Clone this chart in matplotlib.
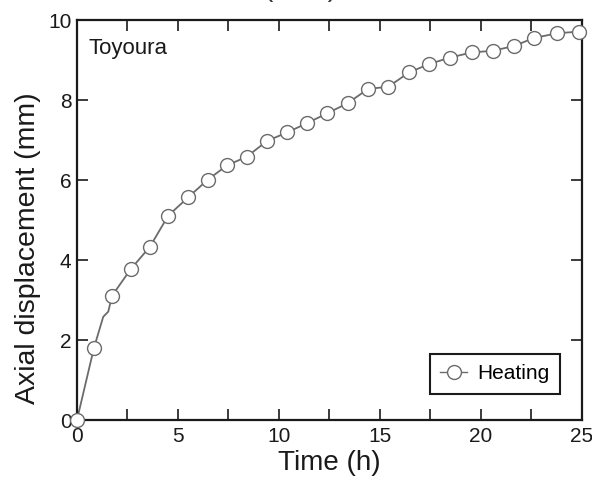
import matplotlib
matplotlib.use('Agg')
from matplotlib import pyplot as plt
from matplotlib.ticker import MultipleLocator

plt.rcParams['font.family'] = ['Liberation Sans', 'DejaVu Sans']

# marker points (h, mm)
time_h = [0.0, 0.84, 1.74, 2.66, 3.61, 4.52, 5.51, 6.48, 7.44, 8.40, 9.42,
          10.41, 11.38, 12.40, 13.40, 14.42, 15.41, 16.44, 17.44, 18.46,
          19.54, 20.58, 21.63, 22.62, 23.78, 24.85]
disp_mm = [0.0, 1.80, 3.11, 3.77, 4.33, 5.11, 5.57, 6.01, 6.37, 6.58, 6.98,
           7.19, 7.42, 7.67, 7.92, 8.28, 8.33, 8.69, 8.90, 9.06,
           9.19, 9.23, 9.35, 9.55, 9.67, 9.71]

# a couple of extra points on the measured curve near the early bend
bend_t = [1.30, 1.55]
bend_y = [2.58, 2.71]

curve = sorted(zip(time_h + bend_t, disp_mm + bend_y))
curve_t = [c[0] for c in curve]
curve_y = [c[1] for c in curve]

gray = '#6b6b6b'
ink = '#1a1a1a'

fig = plt.figure(figsize=(5.92, 4.78), dpi=100)
ax = fig.add_axes([0.130, 0.1213, 0.853, 0.8368])

ax.plot(curve_t, curve_y, color=gray, lw=1.3, zorder=2)
ax.plot(time_h, disp_mm, linestyle='none', marker='o', ms=10,
        mfc='white', mec=gray, mew=1.0, clip_on=False, zorder=3)

# legend proxy
ax.plot([], [], color=gray, lw=1.0, marker='o', ms=10, mfc='white',
        mec=gray, mew=1.0, label='Heating')

ax.set_xlim(0, 25)
ax.set_ylim(0, 10)
ax.xaxis.set_major_locator(MultipleLocator(5))
ax.xaxis.set_minor_locator(MultipleLocator(2.5))
ax.yaxis.set_major_locator(MultipleLocator(2))

for s in ax.spines.values():
    s.set_linewidth(1.6)
    s.set_color(ink)
ax.tick_params(which='both', direction='in', top=True, right=True,
               length=8, width=1.2, color=ink)
ax.tick_params(labelsize=15, labelcolor=ink)
ax.tick_params(axis='x', pad=5)
ax.tick_params(axis='y', pad=4)

ax.set_xlabel('Time (h)', fontsize=20, color=ink, labelpad=3)
ax.set_ylabel('Axial displacement (mm)', fontsize=20.5, color=ink)
ax.yaxis.set_label_coords(-0.071, 0.43)

ax.text(0.022, 0.955, 'Toyoura', transform=ax.transAxes, fontsize=16,
        va='top', ha='left', color=ink)

leg = ax.legend(loc='lower right', bbox_to_anchor=(0.978, 0.04),
                fontsize=15, handlelength=1.3, handletextpad=0.5,
                borderpad=0.5, fancybox=False, framealpha=1)
leg.get_frame().set_edgecolor(ink)
leg.get_frame().set_linewidth(1.5)

# title above the frame is cut off in the reference; only its brackets show
fig.text(0.507, 1.009, '(       )', fontsize=20, ha='center',
         va='baseline', color='#333333')

fig.savefig('out.png', dpi=100)
